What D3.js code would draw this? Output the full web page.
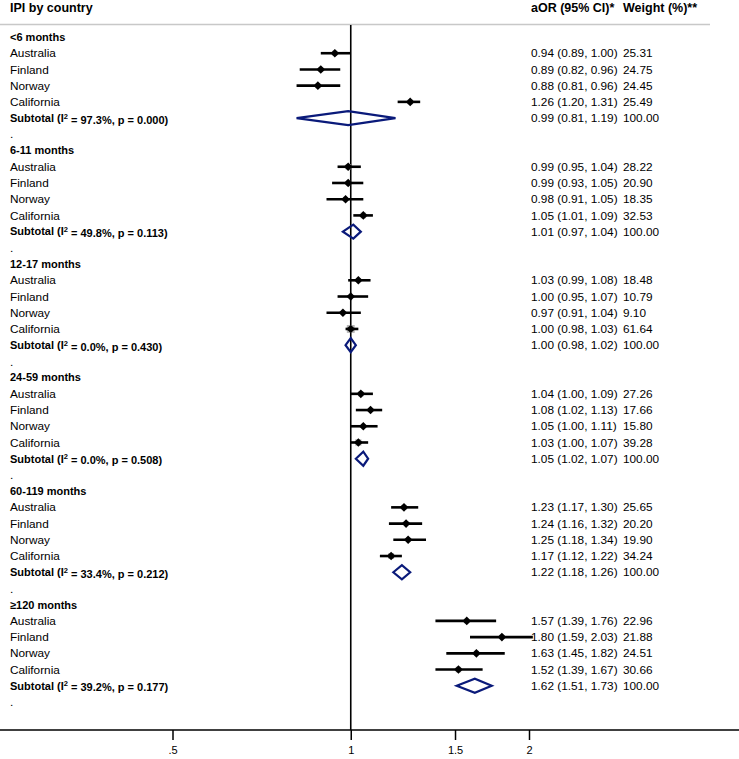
<!DOCTYPE html>
<html><head><meta charset="utf-8">
<script src="https://cdn.jsdelivr.net/npm/d3@7"></script>
<style>body{margin:0;background:#fff}svg{display:block;font-family:"Liberation Sans",Arial,sans-serif}</style>
</head><body><svg id="c" width="739" height="759"></svg>
<script>
const groups = ["<6 months","6-11 months","12-17 months","24-59 months","60-119 months","≥120 months"];
const countries = ["Australia","Finland","Norway","California"];
const est = [[0.94,0.89,0.88,1.26],[0.99,0.99,0.98,1.05],[1.03,1.00,0.97,1.00],[1.04,1.08,1.05,1.03],[1.23,1.24,1.25,1.17],[1.57,1.80,1.63,1.52]];
const lo  = [[0.89,0.82,0.81,1.20],[0.95,0.93,0.91,1.01],[0.99,0.95,0.91,0.98],[1.00,1.02,1.00,1.00],[1.17,1.16,1.18,1.12],[1.39,1.59,1.45,1.39]];
const hi  = [[1.00,0.96,0.96,1.31],[1.04,1.05,1.05,1.09],[1.08,1.07,1.04,1.03],[1.09,1.13,1.11,1.07],[1.30,1.32,1.34,1.22],[1.76,2.03,1.82,1.67]];
const weights = [[25.31,24.75,24.45,25.49],[28.22,20.90,18.35,32.53],[18.48,10.79,9.10,61.64],[27.26,17.66,15.80,39.28],[25.65,20.20,19.90,34.24],[22.96,21.88,24.51,30.66]];
const subEst = [0.99,1.01,1.00,1.05,1.22,1.62];
const subLo  = [0.81,0.97,0.98,1.02,1.18,1.51];
const subHi  = [1.19,1.04,1.02,1.07,1.26,1.73];
const i2     = ["97.3","49.8","0.0","0.0","33.4","39.2"];
const pval   = ["0.000","0.113","0.430","0.508","0.212","0.177"];
const tickVals = [0.5,1,1.5,2];
const tickLabels = [".5","1","1.5","2"];

const svg = d3.select("#c");
const x = d3.scaleLog().domain([0.5,2]).range([172.5,529]);
const y = d3.scaleLinear().domain([0,41]).range([37,702]);
const fs = 11.8, fb = 11;
const colA = 531, colW = 623, left = 10;
const navy = "#0a1a7a";

// header
svg.append("text").attr("x",left).attr("y",8).attr("dy","0.35em").attr("font-size",12.5).attr("font-weight","bold").text("IPI by country");
svg.append("text").attr("x",colA).attr("y",8).attr("dy","0.35em").attr("font-size",12.5).attr("font-weight","bold").text("aOR (95% CI)*");
svg.append("text").attr("x",colW).attr("y",8).attr("dy","0.35em").attr("font-size",12.5).attr("font-weight","bold").text("Weight (%)**");
svg.append("line").attr("x1",0).attr("x2",710).attr("y1",24.5).attr("y2",24.5).attr("stroke","#c8c8c8").attr("stroke-width",1.5);

// null line
svg.append("line").attr("x1",x(1)).attr("x2",x(1)).attr("y1",25).attr("y2",730).attr("stroke","#000").attr("stroke-width",1.6);

const g = svg.append("g");
groups.forEach((grp, gi) => {
  const base = gi*7;
  g.append("text").attr("x",left).attr("y",y(base)).attr("dy","0.35em").attr("font-size",fb).attr("font-weight","bold").text(grp);
  countries.forEach((c, ci) => {
    const yy = y(base+1+ci);
    g.append("text").attr("x",left).attr("y",yy).attr("dy","0.35em").attr("font-size",fs).text(c);
    const w = weights[gi][ci];
    const s = Math.sqrt(w)*1.0;
    g.append("rect").attr("x",x(est[gi][ci])-s/2).attr("y",yy-s/2).attr("width",s).attr("height",s).attr("fill","#b4b4b4");
    g.append("line").attr("x1",x(lo[gi][ci])).attr("x2",x(hi[gi][ci])).attr("y1",yy).attr("y2",yy).attr("stroke","#000").attr("stroke-width",2.6);
    const px = x(est[gi][ci]), r = 4.3;
    g.append("path").attr("d",`M${px-r},${yy}L${px},${yy-r}L${px+r},${yy}L${px},${yy+r}Z`).attr("fill","#000");
    g.append("text").attr("x",colA).attr("y",yy).attr("dy","0.35em").attr("font-size",fs)
      .text(`${est[gi][ci].toFixed(2)} (${lo[gi][ci].toFixed(2)}, ${hi[gi][ci].toFixed(2)})`);
    g.append("text").attr("x",colW).attr("y",yy).attr("dy","0.35em").attr("font-size",fs).text(w.toFixed(2));
  });
  const ys = y(base+5);
  const t = g.append("text").attr("x",left).attr("y",ys).attr("dy","0.35em").attr("font-size",fb).attr("font-weight","bold");
  t.append("tspan").text("Subtotal (I");
  t.append("tspan").attr("dy","-0.45em").attr("font-size",7.5).text("2");
  t.append("tspan").attr("dy","0.45em").text(` = ${i2[gi]}%, p = ${pval[gi]})`);
  const h = 7;
  g.append("path").attr("d",`M${x(subLo[gi])},${ys}L${x(subEst[gi])},${ys-h}L${x(subHi[gi])},${ys}L${x(subEst[gi])},${ys+h}Z`)
    .attr("fill","none").attr("stroke",navy).attr("stroke-width",2.2);
  g.append("text").attr("x",colA).attr("y",ys).attr("dy","0.35em").attr("font-size",fs)
    .text(`${subEst[gi].toFixed(2)} (${subLo[gi].toFixed(2)}, ${subHi[gi].toFixed(2)})`);
  g.append("text").attr("x",colW).attr("y",ys).attr("dy","0.35em").attr("font-size",fs).text("100.00");
  g.append("text").attr("x",left).attr("y",y(base+6)).attr("dy","0.35em").attr("font-size",fs).text(".");
});

// axis
svg.append("line").attr("x1",0).attr("x2",739).attr("y1",730).attr("y2",730).attr("stroke","#000").attr("stroke-width",1.5);
const ax = svg.append("g").attr("transform","translate(0,730)")
  .call(d3.axisBottom(x).tickValues(tickVals).tickFormat((d,i)=>tickLabels[i]).tickSize(10).tickPadding(6));
ax.select(".domain").remove();
ax.selectAll(".tick line").attr("stroke","#000").attr("stroke-width",1.5);
ax.selectAll(".tick text").attr("font-size",11).attr("font-family","'Liberation Sans',Arial,sans-serif").attr("fill","#000");
</script></body></html>
